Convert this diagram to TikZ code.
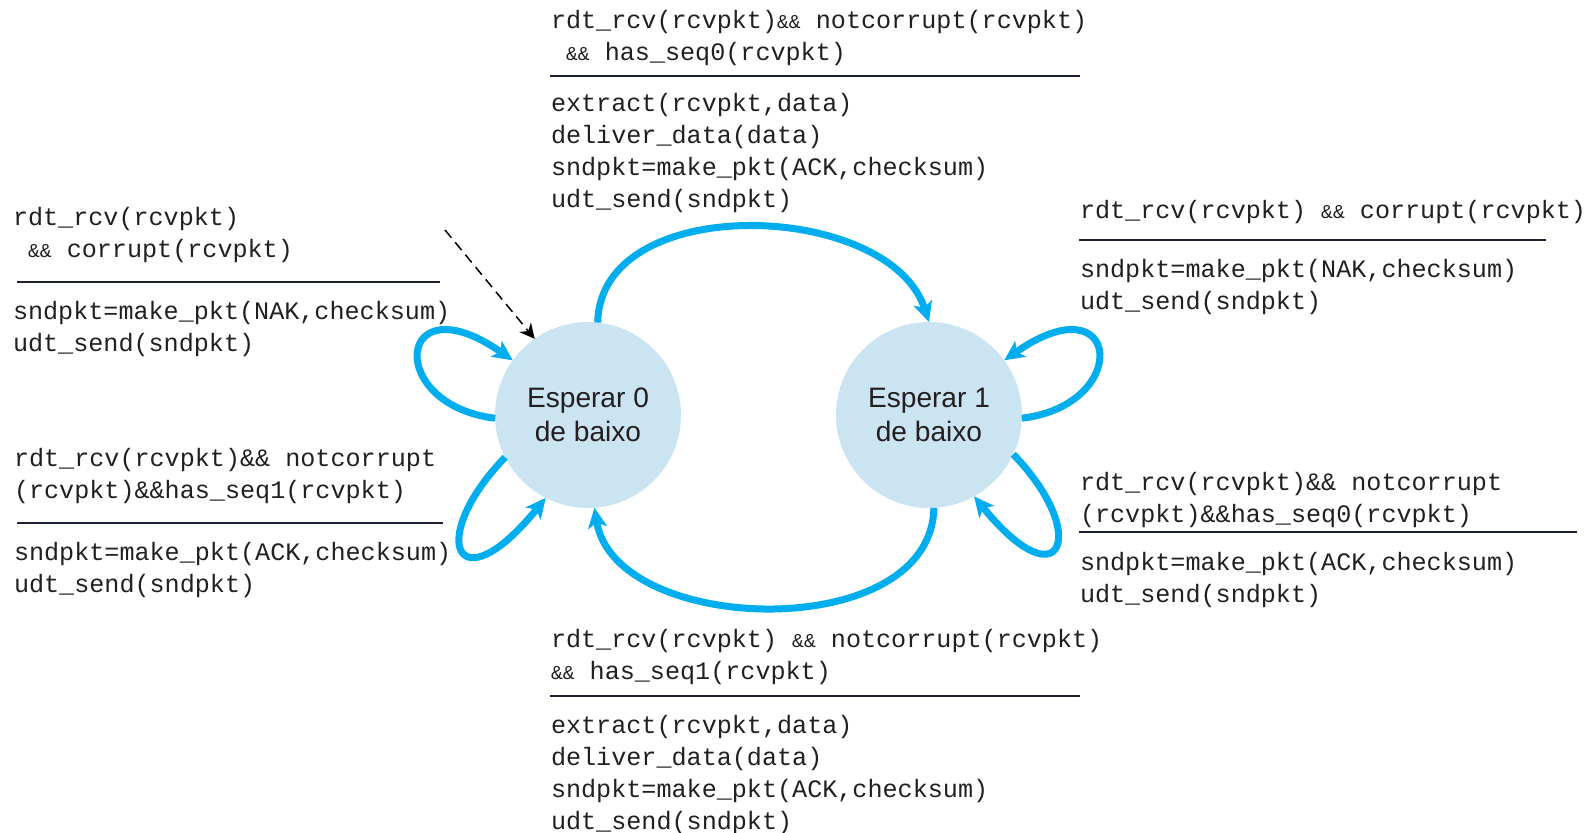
\documentclass[tikz,border=0pt]{standalone}
\usepackage{fontspec}
\setmainfont{Liberation Sans}
\setmonofont{Liberation Mono}
\usetikzlibrary{arrows.meta}

\definecolor{fsmblue}{RGB}{0,174,239}
\definecolor{statefill}{RGB}{203,228,241}
\definecolor{rulecol}{RGB}{28,34,52}
\definecolor{textcol}{RGB}{35,31,32}

\newcommand{\ampamp}{{\fontsize{11.2}{12}\selectfont\&\&}}

\begin{document}
\begin{tikzpicture}[x=0.02cm, y=0.02cm,
            every node/.style = {inner sep = 0pt,
                                outer sep = 0pt,
                                text      = textcol},
            state/.style      = {circle,
                                fill         = statefill,
                                minimum size = 3.72cm,
                                align        = center,
                                font         = \fontsize{16}{19.3}\selectfont},
            action/.style     = {anchor = base west,
                                align  = left,
                                font   = \ttfamily\fontsize{14.3}{18.2}\selectfont},
            trans/.style      = {draw       = fsmblue,
                                line width = 0.14cm,
                                -{Stealth[length=0.4cm, width=0.38cm, inset=0.1cm]}},
            entry/.style      = {draw         = black,
                                line width   = 0.03cm,
                                dash pattern = on 0.2cm off 0.12cm,
                                -{Stealth[length=0.3cm, width=0.3cm]}},
            bar/.style        = {draw = rulecol, line width = 0.04cm}
            ]
            \newcommand{\fsmlabel}[9]{%
                \node [action] (#1 guard) at (#2,-#3) {#4};
                \draw [bar]    (#6,-#5) -- (#7,-#5);
                \node [action] (#1 act)   at (#2,-#8) {#9};
            }

            \useasboundingbox (0,0) rectangle (1589,-832);

            \node [state] (w0) at (588,-415) {Esperar 0\\de baixo};
            \node [state] (w1) at (929,-415) {Esperar 1\\de baixo};
            \coordinate (start) at (445,-230);

            \draw [entry] (start) -- (w0.125);
            \draw [trans] (w0.84)  .. controls +(89:132)  and +(108:128) .. (w1.90);
            \draw [trans] (w1.-87) .. controls +(269:137) and +(279:130) .. (w0.-86);
            \draw [trans] (w0.182) .. controls +(173:112) and +(145:142) .. (w0.144);
            \draw [trans] (w0.207) .. controls +(226:115) and +(231:141) .. (w0.243);
            \draw [trans] (w1.-2)  .. controls +(7:112)   and +(35:142)  .. (w1.36);
            \draw [trans] (w1.-25) .. controls +(-46:112) and +(-51:138) .. (w1.-61);

            \fsmlabel{seq0}{551}{60}{rdt\_rcv(rcvpkt)\ampamp\ notcorrupt(rcvpkt)\\\ \ampamp\ has\_seq0(rcvpkt)}{76}{550}{1080}%
                {207}{extract(rcvpkt,data)\\deliver\_data(data)\\sndpkt=make\_pkt(ACK,checksum)\\udt\_send(sndpkt)}
            \fsmlabel{nak0}{13}{257}{rdt\_rcv(rcvpkt)\\\ \ampamp\ corrupt(rcvpkt)}{282}{17}{440}%
                {351}{sndpkt=make\_pkt(NAK,checksum)\\udt\_send(sndpkt)}
            \fsmlabel{dup1}{14}{498}{rdt\_rcv(rcvpkt)\&\& notcorrupt\\(rcvpkt)\&\&has\_seq1(rcvpkt)}{523}{17}{443}%
                {592}{sndpkt=make\_pkt(ACK,checksum)\\udt\_send(sndpkt)}
            \fsmlabel{nak1}{1080}{218}{rdt\_rcv(rcvpkt)\ \ampamp\ corrupt(rcvpkt)}{240}{1079}{1546}%
                {309}{sndpkt=make\_pkt(NAK,checksum)\\udt\_send(sndpkt)}
            \fsmlabel{dup0}{1080}{522}{rdt\_rcv(rcvpkt)\&\& notcorrupt\\(rcvpkt)\&\&has\_seq0(rcvpkt)}{532}{1079}{1577}%
                {602}{sndpkt=make\_pkt(ACK,checksum)\\udt\_send(sndpkt)}
            \fsmlabel{seq1}{551}{679}{rdt\_rcv(rcvpkt)\ \ampamp\ notcorrupt(rcvpkt)\\\ampamp\ has\_seq1(rcvpkt)}{696}{550}{1080}%
                {829}{extract(rcvpkt,data)\\deliver\_data(data)\\sndpkt=make\_pkt(ACK,checksum)\\udt\_send(sndpkt)}
\end{tikzpicture}
\end{document}
